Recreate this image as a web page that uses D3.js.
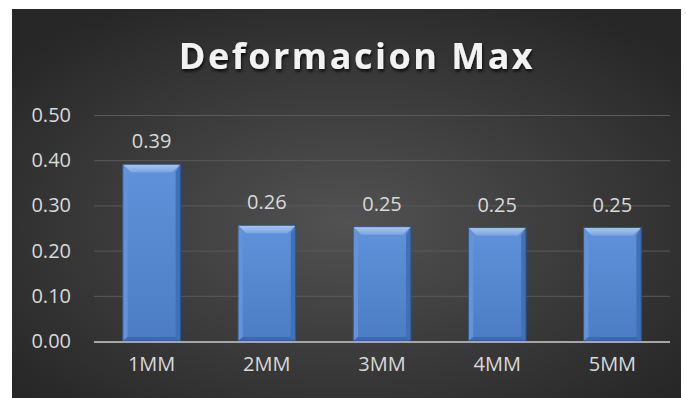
<!DOCTYPE html>
<html>
<head>
<meta charset="utf-8">
<script src="https://cdn.jsdelivr.net/npm/d3@7"></script>
<style>
  html, body { margin: 0; padding: 0; background: #ffffff; }
  svg { display: block; }
</style>
</head>
<body>
<svg id="chart" width="686" height="398"></svg>
<script>
// Data
const categories = ["1MM", "2MM", "3MM", "4MM", "5MM"];
const values = [0.391, 0.256, 0.253, 0.251, 0.251];
const yTicks = [0, 0.1, 0.2, 0.3, 0.4, 0.5];
const titleText = "Deformacion Max";

const frame = { x: 12, y: 9, w: 669, h: 389 };
const plot = { left: 94, right: 670, top: 115, bottom: 341 };
const font = "'Open Sans', 'Noto Sans', sans-serif";

const svg = d3.select("#chart");
const defs = svg.append("defs");

// Background radial glow
const bg = defs.append("radialGradient").attr("id", "bgGrad")
  .attr("cx", "50%").attr("cy", "55%").attr("r", "65%");
bg.append("stop").attr("offset", "0%").attr("stop-color", "#525252");
bg.append("stop").attr("offset", "100%").attr("stop-color", "#272727");

// Bar face gradient
const face = defs.append("linearGradient").attr("id", "faceGrad")
  .attr("x1", 0).attr("y1", 0).attr("x2", 0).attr("y2", 1);
face.append("stop").attr("offset", "0%").attr("stop-color", "#5f92da");
face.append("stop").attr("offset", "100%").attr("stop-color", "#4c7dc4");

// Top bevel gradient
const topBev = defs.append("linearGradient").attr("id", "topBev")
  .attr("x1", 0).attr("y1", 0).attr("x2", 0).attr("y2", 1);
topBev.append("stop").attr("offset", "0%").attr("stop-color", "#a9c8f3");
topBev.append("stop").attr("offset", "100%").attr("stop-color", "#79a5e6");

// Title shadow
const f = defs.append("filter").attr("id", "titleShadow")
  .attr("x", "-10%").attr("y", "-30%").attr("width", "120%").attr("height", "160%");
f.append("feDropShadow").attr("dx", 1).attr("dy", 2.5).attr("stdDeviation", 1.8)
  .attr("flood-color", "#000").attr("flood-opacity", 0.75);

svg.append("rect")
  .attr("x", frame.x).attr("y", frame.y).attr("width", frame.w).attr("height", frame.h)
  .attr("fill", "url(#bgGrad)");

// Scales
const x = d3.scaleBand().domain(categories)
  .range([plot.left, plot.right]).paddingInner(0.5).paddingOuter(0.25);
const y = d3.scaleLinear().domain([0, 0.5]).range([plot.bottom, plot.top]);

// Gridlines
const grid = svg.append("g")
  .attr("transform", `translate(${plot.left},0)`)
  .call(d3.axisLeft(y).tickValues(yTicks.slice(1)).tickSize(-(plot.right - plot.left)).tickFormat(""));
grid.select(".domain").remove();
grid.selectAll("line").attr("stroke", "#5a5a5a").attr("stroke-width", 1);

// Y axis labels
const yAxis = svg.append("g")
  .attr("transform", `translate(${plot.left - 23},0)`)
  .call(d3.axisLeft(y).tickValues(yTicks).tickSize(0).tickPadding(0).tickFormat(d3.format(".2f")));
yAxis.select(".domain").remove();
yAxis.selectAll("text")
  .attr("fill", "#d9d9d9").attr("font-family", font).attr("font-size", 20);

// X axis labels
const xAxis = svg.append("g")
  .attr("transform", `translate(0,${plot.bottom})`)
  .call(d3.axisBottom(x).tickSize(0).tickPadding(16));
xAxis.select(".domain").remove();
xAxis.selectAll("text")
  .attr("fill", "#d9d9d9").attr("font-family", font).attr("font-size", 20);

// Bars with bevelled edges
const bev = 8;
const bars = svg.append("g").selectAll("g").data(categories).join("g");
bars.each(function (c, i) {
  const g = d3.select(this);
  const x0 = x(c), x1 = x(c) + x.bandwidth();
  const y0 = y(values[i]), y1 = y(0);
  const b = Math.min(bev, (y1 - y0) / 2);
  g.append("rect").attr("x", x0).attr("y", y0).attr("width", x1 - x0).attr("height", y1 - y0)
    .attr("fill", "url(#faceGrad)");
  const poly = (pts, fill) => g.append("polygon")
    .attr("points", pts.map(p => p.join(",")).join(" ")).attr("fill", fill);
  // top bevel
  poly([[x0, y0], [x1, y0], [x1 - b, y0 + b], [x0 + b, y0 + b]], "url(#topBev)");
  // left bevel
  poly([[x0, y0], [x0 + b * 0.6, y0 + b], [x0 + b * 0.6, y1 - b * 0.5], [x0, y1]], "#6394d9");
  // right bevel
  poly([[x1, y0], [x1 - b * 0.6, y0 + b], [x1 - b * 0.6, y1 - b * 0.5], [x1, y1]], "#4271b3");
  // bottom bevel
  poly([[x0, y1], [x1, y1], [x1 - b * 0.6, y1 - b * 0.5], [x0 + b * 0.6, y1 - b * 0.5]], "#3f6aa8");
  g.append("rect").attr("x", x0).attr("y", y0).attr("width", x1 - x0).attr("height", y1 - y0)
    .attr("fill", "none").attr("stroke", "#2f558e").attr("stroke-width", 1);
});

// Baseline
svg.append("line")
  .attr("x1", plot.left).attr("x2", plot.right)
  .attr("y1", y(0) + 1).attr("y2", y(0) + 1)
  .attr("stroke", "#a6a6a6").attr("stroke-width", 2);

// Value labels
svg.append("g").selectAll("text").data(categories).join("text")
  .attr("x", c => x(c) + x.bandwidth() / 2)
  .attr("y", (c, i) => y(values[i]) - 16)
  .attr("text-anchor", "middle")
  .attr("fill", "#d9d9d9").attr("font-family", font).attr("font-size", 20)
  .text((c, i) => d3.format(".2f")(values[i]));

// Title
svg.append("text")
  .attr("x", 357).attr("y", 69)
  .attr("text-anchor", "middle")
  .attr("fill", "#f2f2f2").attr("font-family", font).attr("font-weight", 700)
  .attr("font-size", 36).attr("letter-spacing", 2.5)
  .attr("filter", "url(#titleShadow)")
  .text(titleText);
</script>
</body>
</html>
